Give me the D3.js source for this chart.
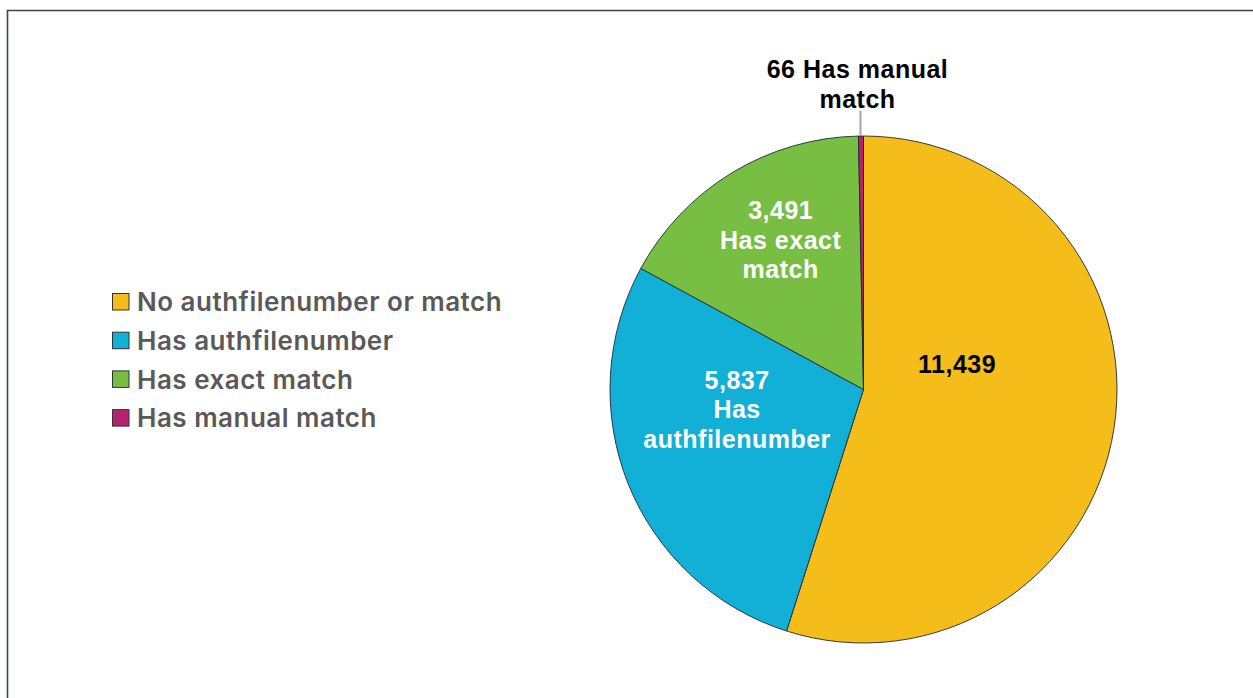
<!DOCTYPE html>
<html>
<head>
<meta charset="utf-8">
<script src="https://cdn.jsdelivr.net/npm/d3@7"></script>
<style>
  html, body { margin: 0; padding: 0; background: #fff; }
  svg { display: block; }
</style>
</head>
<body>
<script>
const categories = ['No authfilenumber or match', 'Has authfilenumber', 'Has exact match', 'Has manual match'];
const values = [11439, 5837, 3491, 66];
const colors = ['#F5BD1A', '#12AFD6', '#77BE43', '#B5226F'];
// label lines inside / outside the slices
const labelLines = [['11,439'], ['5,837', 'Has', 'authfilenumber'], ['3,491', 'Has exact', 'match'], ['66 Has manual', 'match']];
const labelColors = ['#000', '#fff', '#fff', '#000'];

const width = 1253;
const height = 698;
const cx = 863.5;
const cy = 389.5;
const r = 253.5;

const svg = d3.select('body').append('svg')
  .attr('width', width)
  .attr('height', height);

// frame, top and left edges only
svg.append('path')
  .attr('d', `M7.5,${height} V10.5 H${width}`)
  .attr('fill', 'none')
  .attr('stroke', '#3a4550')
  .attr('stroke-width', 1.6);

const pie = d3.pie().sort(null).value(d => d);
const arcs = pie(values);
const arc = d3.arc().innerRadius(0).outerRadius(r);

const g = svg.append('g').attr('transform', `translate(${cx},${cy})`);

g.selectAll('path.slice')
  .data(arcs)
  .join('path')
  .attr('class', 'slice')
  .attr('d', arc)
  .attr('fill', (d, i) => colors[i])
  .attr('stroke', '#1f2a33')
  .attr('stroke-width', 0.9);

// where each label block is centred: [angle from 12 o'clock in degrees, radius fraction]
const labelAt = [[74.7, 0.383], [261, 0.505], [331, 0.674]];
const lineH = 29.5;

function addLabel(i, x, yTop) {
  const t = g.append('text')
    .attr('text-anchor', 'middle')
    .attr('font-family', 'Liberation Sans, Arial, sans-serif')
    .attr('font-weight', 'bold')
    .attr('font-size', 25)
    .attr('letter-spacing', 0.5)
    .attr('fill', labelColors[i]);
  labelLines[i].forEach((ln, k) => {
    t.append('tspan')
      .attr('x', x)
      .attr('y', yTop + k * lineH)
      .attr('dy', '0.35em')
      .text(ln);
  });
}

labelAt.forEach(([deg, f], i) => {
  const a = deg * Math.PI / 180;
  const x = Math.sin(a) * f * r;
  const y = -Math.cos(a) * f * r;
  addLabel(i, x, y - (labelLines[i].length - 1) * lineH / 2);
});

// tiny slice: outside label with a leader line
const small = arcs[3];
const midS = (small.startAngle + small.endAngle) / 2;
const lx = Math.sin(midS) * r - 0.5;
g.append('line')
  .attr('x1', lx)
  .attr('y1', -Math.cos(midS) * r)
  .attr('x2', lx)
  .attr('y2', -r - 25)
  .attr('stroke', '#a6a6a6')
  .attr('stroke-width', 2);
addLabel(3, lx - 3, -r - 25 - 12 - lineH);

// legend
const legend = svg.append('g').attr('transform', 'translate(112,302)');
const rowH = 38.7;
const item = legend.selectAll('g')
  .data(categories)
  .join('g')
  .attr('transform', (d, i) => `translate(0,${i * rowH})`);

item.append('rect')
  .attr('x', 0.5)
  .attr('y', -8.5)
  .attr('width', 16.5)
  .attr('height', 16.5)
  .attr('fill', (d, i) => colors[i])
  .attr('stroke', '#333')
  .attr('stroke-width', 1);

item.append('text')
  .attr('x', 25)
  .attr('dy', '0.36em')
  .attr('font-family', 'Inter, Noto Sans, sans-serif')
  .attr('font-weight', 600)
  .attr('font-size', 26)
  .attr('letter-spacing', 0.5)
  .attr('fill', '#595959')
  .text(d => d);
</script>
</body>
</html>
